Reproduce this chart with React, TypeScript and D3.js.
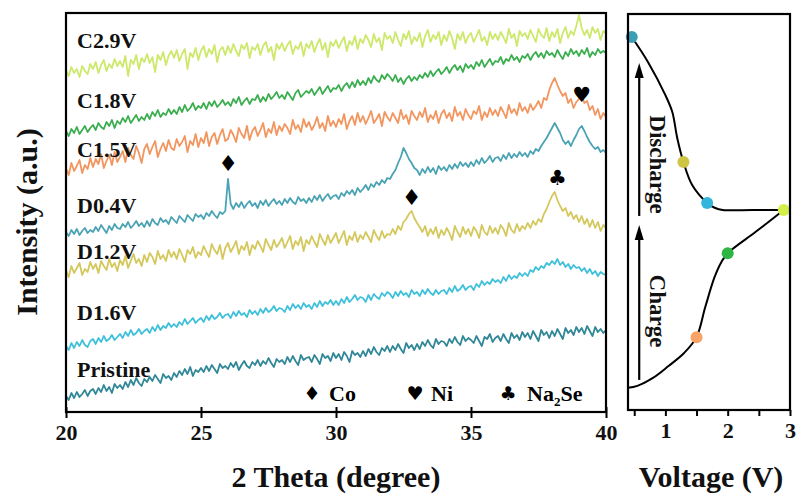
import { useEffect, useRef } from 'react';
import * as d3 from 'd3';

// XRD patterns, 2θ from 20 to 40 in 0.1° steps (intensity, arbitrary units)
const thetaStart = 20;
const thetaStep = 0.1;

const seriesLabels = ['C2.9V', 'C1.8V', 'C1.5V', 'D0.4V', 'D1.2V', 'D1.6V', 'Pristine'];
const seriesColors = ['#cde86a', '#3aae4e', '#f29660', '#4aa3b4', '#d4c85c', '#3fc0da', '#2f8797'];

const c29 = [
  342, 336, 345, 339, 343, 335, 346, 341, 338, 348,
  343, 350, 339, 347, 352, 341, 348, 344, 353, 346,
  351, 345, 356, 336, 352, 348, 357, 343, 354, 350,
  358, 349, 355, 340, 357, 352, 360, 347, 356, 361,
  354, 362, 351, 358, 363, 343, 359, 355, 364, 352,
  361, 366, 355, 363, 358, 367, 350, 362, 365, 357,
  366, 359, 368, 361, 356, 367, 363, 369, 354, 365,
  362, 368, 357, 366, 370, 360, 365, 352, 368, 363,
  369, 361, 367, 371, 358, 366, 363, 370, 356, 368,
  364, 371, 360, 368, 373, 362, 369, 355, 370, 366,
  372, 364, 370, 375, 361, 371, 367, 376, 363, 373,
  369, 377, 372, 365, 378, 370, 374, 362, 379, 373,
  376, 369, 380, 372, 366, 378, 373, 381, 368, 375,
  371, 379, 365, 376, 382, 370, 377, 373, 380, 367,
  377, 371, 381, 374, 363, 378, 372, 380, 369, 376,
  379, 370, 376, 382, 371, 375, 367, 380, 373, 378,
  372, 380, 375, 369, 383, 374, 378, 366, 381, 376,
  379, 373, 382, 376, 370, 383, 377, 374, 384, 371,
  380, 375, 383, 369, 379, 385, 374, 381, 377, 386,
  397, 384, 377, 382, 374, 385, 379, 383, 372, 381,
  379,
];
const c18 = [
  281, 276, 283, 279, 285, 278, 282, 286, 280, 284,
  287, 282, 289, 285, 283, 290, 286, 292, 284, 291,
  288, 294, 290, 296, 289, 293, 297, 291, 295, 292,
  298, 293, 300, 296, 302, 295, 299, 297, 303, 298,
  302, 298, 305, 300, 307, 301, 304, 309, 302, 306,
  304, 309, 303, 310, 306, 311, 305, 308, 312, 307,
  310, 306, 313, 309, 315, 307, 311, 314, 308, 313,
  312, 317, 310, 315, 311, 318, 313, 316, 320, 314,
  317, 313, 320, 316, 312, 319, 322, 315, 318, 321,
  319, 323, 317, 321, 325, 318, 322, 326, 320, 324,
  323, 327, 321, 326, 329, 324, 330, 325, 332, 327,
  331, 327, 334, 329, 336, 332, 330, 337, 333, 338,
  335, 331, 337, 330, 334, 328, 333, 336, 331, 335,
  332, 337, 334, 339, 335, 341, 336, 340, 343, 338,
  341, 345, 339, 344, 347, 342, 346, 340, 348, 344,
  347, 343, 350, 346, 352, 345, 349, 353, 347, 351,
  350, 355, 348, 353, 351, 357, 352, 355, 350, 356,
  354, 358, 352, 357, 360, 355, 359, 354, 361, 357,
  359, 355, 362, 357, 353, 360, 356, 363, 358, 361,
  356, 362, 358, 364, 355, 360, 357, 363, 359, 361,
  359,
];
const c15 = [
  244, 237, 249, 241, 246, 252, 239, 247, 243, 254,
  245, 253, 248, 258, 244, 251, 257, 247, 260, 250,
  255, 261, 250, 264, 257, 253, 266, 259, 249, 263,
  268, 258, 265, 271, 255, 263, 269, 261, 272, 264,
  262, 273, 266, 270, 276, 260, 271, 267, 278, 265,
  274, 269, 280, 266, 275, 279, 268, 277, 283, 271,
  273, 282, 277, 270, 284, 278, 274, 286, 272, 281,
  285, 276, 282, 289, 275, 283, 279, 290, 277, 286,
  281, 288, 284, 278, 292, 283, 287, 280, 293, 285,
  290, 282, 287, 295, 284, 289, 281, 296, 286, 291,
  285, 293, 288, 298, 283, 291, 296, 287, 299, 290,
  296, 288, 294, 301, 289, 293, 298, 286, 300, 295,
  291, 299, 294, 289, 302, 293, 297, 288, 301, 296,
  292, 300, 295, 304, 290, 297, 293, 301, 289, 298,
  302, 294, 299, 291, 305, 296, 300, 292, 303, 297,
  293, 301, 298, 306, 292, 300, 295, 304, 297, 302,
  296, 305, 300, 294, 307, 299, 303, 297, 309, 301,
  305, 299, 308, 302, 306, 311, 304, 314, 312, 322,
  329, 334, 327, 321, 316, 319, 309, 313, 304, 310,
  313, 316, 309, 311, 302, 306, 297, 303, 293, 299,
  295,
];
const d04 = [
  180, 176, 182, 178, 183, 177, 181, 184, 179, 182,
  180, 185, 181, 187, 183, 179, 186, 182, 188, 184,
  183, 188, 185, 190, 184, 187, 191, 186, 189, 185,
  191, 186, 193, 189, 187, 194, 190, 192, 188, 195,
  192, 189, 196, 193, 190, 197, 194, 191, 198, 195,
  197, 193, 199, 196, 201, 197, 194, 200, 198, 201,
  233, 208, 203, 209, 205, 210, 204, 208, 211, 206,
  209, 204, 211, 207, 212, 206, 210, 213, 208, 211,
  207, 213, 209, 214, 210, 208, 215, 211, 213, 209,
  214, 210, 216, 212, 217, 211, 215, 218, 213, 216,
  217, 213, 219, 216, 221, 218, 222, 217, 224, 220,
  223, 227, 222, 228, 225, 230, 227, 232, 229, 234,
  233, 238, 242, 249, 255, 264, 259, 253, 249, 244,
  242, 237, 243, 239, 245, 240, 244, 238, 246, 242,
  245, 241, 247, 243, 248, 244, 250, 246, 249, 245,
  250, 246, 252, 248, 254, 249, 252, 256, 250, 254,
  255, 251, 257, 253, 259, 254, 258, 255, 260, 256,
  259, 255, 261, 258, 263, 261, 266, 270, 274, 279,
  284, 289, 284, 279, 272, 268, 271, 266, 272, 277,
  283, 286, 281, 275, 270, 266, 263, 265, 260, 262,
  259,
];
const d12 = [
  142, 135, 146, 139, 144, 149, 137, 143, 140, 150,
  143, 148, 139, 151, 146, 142, 153, 145, 149, 141,
  152, 147, 156, 144, 151, 158, 149, 153, 146, 157,
  150, 159, 155, 148, 161, 153, 157, 151, 162, 155,
  160, 153, 163, 157, 150, 162, 158, 165, 154, 160,
  157, 166, 160, 155, 168, 162, 158, 167, 153, 164,
  169, 160, 165, 171, 158, 166, 162, 170, 157, 167,
  163, 171, 166, 160, 173, 167, 162, 172, 165, 169,
  174, 164, 170, 176, 163, 171, 167, 175, 161, 172,
  168, 176, 170, 165, 178, 172, 167, 177, 169, 174,
  179, 169, 175, 181, 167, 176, 172, 180, 170, 177,
  173, 180, 175, 170, 182, 176, 172, 181, 174, 178,
  177, 183, 178, 186, 182, 190, 193, 198, 201, 194,
  189, 185, 180, 186, 176, 183, 178, 185, 174, 182,
  177, 184, 179, 172, 186, 180, 175, 185, 178, 183,
  176, 185, 181, 174, 187, 180, 177, 186, 179, 184,
  178, 187, 183, 176, 189, 182, 179, 188, 181, 186,
  183, 189, 184, 191, 187, 193, 190, 198, 203, 210,
  216, 220, 212, 206, 201, 204, 196, 200, 193, 197,
  190, 196, 188, 193, 185, 192, 184, 190, 181, 187,
  184,
];
const d16 = [
  66, 62, 69, 64, 70, 66, 72, 67, 65, 71,
  73, 68, 74, 70, 76, 71, 73, 77, 72, 75,
  78, 74, 80, 76, 82, 77, 79, 83, 78, 81,
  83, 79, 85, 81, 87, 82, 86, 84, 89, 85,
  88, 85, 90, 87, 93, 88, 91, 94, 89, 92,
  94, 90, 96, 92, 97, 93, 95, 99, 94, 97,
  98, 94, 100, 96, 101, 97, 99, 95, 102, 98,
  101, 97, 103, 99, 104, 100, 102, 106, 101, 104,
  103, 100, 106, 102, 108, 104, 107, 103, 109, 105,
  107, 103, 109, 105, 111, 106, 110, 108, 112, 107,
  111, 107, 113, 109, 115, 110, 113, 117, 112, 115,
  114, 110, 117, 112, 118, 115, 113, 119, 116, 120,
  118, 114, 120, 116, 121, 117, 119, 115, 122, 118,
  120, 116, 122, 118, 123, 119, 117, 122, 118, 121,
  122, 118, 124, 120, 126, 121, 123, 127, 122, 125,
  126, 122, 128, 125, 131, 127, 130, 128, 133, 130,
  132, 129, 135, 131, 137, 133, 136, 134, 139, 136,
  139, 136, 142, 140, 145, 142, 146, 144, 149, 147,
  151, 148, 153, 147, 150, 145, 148, 143, 147, 144,
  145, 141, 144, 139, 143, 138, 141, 136, 140, 138,
  137,
];
const pristine = [
  16, 12, 19, 14, 20, 15, 18, 22, 16, 21,
  23, 18, 24, 20, 27, 21, 25, 19, 28, 24,
  27, 23, 30, 25, 32, 27, 34, 29, 26, 33,
  30, 35, 31, 37, 33, 29, 38, 34, 36, 32,
  39, 35, 41, 37, 43, 38, 45, 36, 42, 40,
  44, 40, 46, 41, 47, 43, 39, 48, 44, 46,
  43, 49, 45, 50, 42, 47, 51, 46, 44, 50,
  47, 52, 46, 51, 48, 54, 49, 45, 53, 50,
  52, 48, 55, 50, 56, 51, 47, 57, 52, 54,
  55, 50, 57, 53, 48, 58, 54, 56, 51, 59,
  54, 58, 52, 60, 56, 50, 61, 57, 59, 55,
  61, 56, 63, 58, 65, 60, 57, 64, 61, 66,
  60, 66, 62, 68, 63, 59, 69, 64, 67, 62,
  68, 63, 70, 66, 72, 67, 64, 73, 68, 71,
  70, 66, 73, 69, 75, 70, 67, 76, 71, 74,
  72, 69, 76, 71, 66, 75, 73, 78, 70, 74,
  76, 71, 78, 73, 69, 79, 74, 77, 72, 80,
  75, 79, 73, 81, 76, 71, 82, 77, 80, 74,
  81, 76, 83, 78, 73, 84, 79, 82, 77, 85,
  80, 84, 78, 86, 81, 76, 85, 80, 83, 79,
  82,
];
const seriesValues = [c29, c18, c15, d04, d12, d16, pristine];

// peak markers: 2θ, intensity, glyph
const peakTheta = [26.0, 32.8, 38.2, 39.1];
const peakLevel = [249, 215, 234, 317];
const peakGlyph = ['♦', '♦', '♣', '♥'];

const xTicks = [20, 25, 30, 35, 40];

// charge / discharge profile: voltage vs. normalised time
const chargeVoltage = [0.4, 0.55, 0.8, 1.05, 1.3, 1.5, 1.64, 1.79, 1.9, 2.0, 2.45, 2.9];
const chargeTime = [5.6, 6.1, 8.1, 11.1, 14.4, 18.4, 26.0, 33.6, 37.4, 39.6, 45.0, 50.5];
const dischargeVoltage = [2.9, 2.4, 1.92, 1.8, 1.67, 1.43, 1.29, 1.19, 1.11, 1.0, 0.72, 0.46];
const dischargeTime = [50.5, 50.5, 50.5, 51.0, 52.3, 56.8, 62.6, 68.7, 75.3, 79.5, 87.9, 94.2];

const dotVoltage = [1.5, 2.0, 2.9, 1.67, 1.29, 0.46];
const dotTime = [18.4, 39.6, 50.5, 52.3, 62.6, 94.2];
const dotColors = ['#f7a466', '#2fb544', '#d3ef4a', '#33b6dc', '#cfc545', '#3a9fb6'];

const vTicks = [0.5, 1, 1.5, 2, 2.5, 3];

const serif = '"Liberation Serif", "Times New Roman", serif';
const symFont = '"DejaVu Sans", sans-serif';

const App = () => {
  const svgRef = useRef<SVGSVGElement>(null);

  useEffect(() => {
    if (!svgRef.current) return;
    document.body.style.margin = '0';
    const svg = d3.select(svgRef.current);
    svg.selectAll('*').remove();

    // ---------- left panel: XRD ----------
    const x = d3.scaleLinear().domain([20, 40]).range([66, 606]);
    const y = d3.scaleLinear().domain([0, 399]).range([412, 13]);

    const line = d3.line<number>()
      .x((_, i) => x(thetaStart + i * thetaStep))
      .y(d => y(d));

    const left = svg.append('g');

    seriesValues.forEach((vals, k) => {
      left.append('path')
        .datum(vals)
        .attr('d', line)
        .attr('fill', 'none')
        .attr('stroke', seriesColors[k])
        .attr('stroke-width', 1.8)
        .attr('stroke-linejoin', 'round');
    });

    // trace labels
    const labelBase = [48, 108, 157, 213, 259, 320, 377];
    seriesLabels.forEach((t, k) => {
      left.append('text')
        .attr('x', 77)
        .attr('y', labelBase[k])
        .style('font-family', serif)
        .style('font-weight', 'bold')
        .style('font-size', '22px')
        .style('fill', '#111')
        .text(t);
    });

    // peak symbols
    peakTheta.forEach((p, i) => {
      left.append('text')
        .attr('x', x(p))
        .attr('y', y(peakLevel[i]))
        .attr('text-anchor', 'middle')
        .attr('dominant-baseline', 'central')
        .style('font-family', symFont)
        .style('font-size', peakGlyph[i] === '♦' ? '22px' : '21px')
        .style('fill', '#000')
        .text(peakGlyph[i]);
    });

    // legend
    const legend = [
      { g: '♦', t: 'Co', x: 312, tx: 329 },
      { g: '♥', t: 'Ni', x: 415, tx: 431 },
      { g: '♣', t: 'Na', sub: '2', t2: 'Se', x: 508, tx: 527 },
    ];
    legend.forEach(l => {
      left.append('text')
        .attr('x', l.x).attr('y', 393)
        .attr('text-anchor', 'middle')
        .attr('dominant-baseline', 'central')
        .style('font-family', symFont)
        .style('font-size', '19px')
        .text(l.g);
      const t = left.append('text')
        .attr('x', l.tx).attr('y', 401)
        .style('font-family', serif)
        .style('font-weight', 'bold')
        .style('font-size', '22px')
        .text(l.t);
      if (l.sub) {
        t.append('tspan').attr('dy', 5).style('font-size', '13px').text(l.sub);
        t.append('tspan').attr('dy', -5).text(l.t2);
      }
    });

    // frame + axis
    left.append('rect')
      .attr('x', 66).attr('y', 13).attr('width', 540).attr('height', 399)
      .attr('fill', 'none').attr('stroke', '#000').attr('stroke-width', 2.2);

    const xAxis = left.append('g')
      .attr('transform', 'translate(0,412)')
      .call(d3.axisBottom(x).tickValues(xTicks).tickSize(6).tickFormat(d3.format('d')));
    xAxis.select('.domain').remove();
    xAxis.selectAll('.tick line').attr('y1', -5).attr('y2', 6).attr('stroke-width', 2);
    xAxis.selectAll('text')
      .attr('y', 12)
      .style('font-family', serif)
      .style('font-weight', 'bold')
      .style('font-size', '22px')
      .style('fill', '#111');

    left.append('text')
      .attr('x', 336).attr('y', 487)
      .attr('text-anchor', 'middle')
      .style('font-family', serif)
      .style('font-weight', 'bold')
      .style('font-size', '30px')
      .style('fill', '#111')
      .text('2 Theta (degree)');

    left.append('text')
      .attr('transform', 'translate(37,222) rotate(-90)')
      .attr('text-anchor', 'middle')
      .style('font-family', serif)
      .style('font-weight', 'bold')
      .style('font-size', '30px')
      .style('fill', '#111')
      .text('Intensity (a.u.)');

    // ---------- right panel: voltage profile ----------
    const xv = d3.scaleLinear().domain([0.4, 3.0]).range([628, 790]);
    const yt = d3.scaleLinear().domain([0, 100]).range([410, 14]);
    const right = svg.append('g');

    const curve = d3.line<[number, number]>()
      .x(d => xv(d[0]))
      .y(d => yt(d[1]))
      .curve(d3.curveCatmullRom.alpha(0.5));

    const chargePts = chargeVoltage.map((v, i) => [v, chargeTime[i]] as [number, number]);
    const dischargePts = dischargeVoltage.map((v, i) => [v, dischargeTime[i]] as [number, number]);

    [chargePts, dischargePts].forEach(pts => {
      right.append('path')
        .datum(pts)
        .attr('d', curve)
        .attr('fill', 'none')
        .attr('stroke', '#000')
        .attr('stroke-width', 2);
    });

    dotVoltage.forEach((v, i) => {
      right.append('circle')
        .attr('cx', xv(v))
        .attr('cy', yt(dotTime[i]))
        .attr('r', 6)
        .attr('fill', dotColors[i]);
    });

    // arrows
    const arrows = [
      { from: 49.0, to: 87.6, label: 'Discharge', mid: 62 },
      { from: 7.6, to: 46.7, label: 'Charge', mid: 25 },
    ];
    arrows.forEach(a => {
      const ax = xv(0.58);
      const tip = yt(a.to);
      right.append('line')
        .attr('x1', ax).attr('x2', ax)
        .attr('y1', yt(a.from)).attr('y2', tip + 10)
        .attr('stroke', '#000').attr('stroke-width', 2.2);
      right.append('path')
        .attr('d', `M${ax},${tip} L${ax - 4.5},${tip + 15} L${ax + 4.5},${tip + 15} Z`)
        .attr('fill', '#000');
      right.append('text')
        .attr('transform', `translate(${ax + 11},${yt(a.mid)}) rotate(90)`)
        .attr('text-anchor', 'middle')
        .style('font-family', serif)
        .style('font-weight', 'bold')
        .style('font-size', '23px')
        .style('fill', '#111')
        .text(a.label);
    });

    right.append('rect')
      .attr('x', 628).attr('y', 14).attr('width', 162).attr('height', 396)
      .attr('fill', 'none').attr('stroke', '#000').attr('stroke-width', 2.2);

    const vAxis = right.append('g')
      .attr('transform', 'translate(0,410)')
      .call(d3.axisBottom(xv).tickValues(vTicks).tickSize(6)
        .tickFormat(d => (Number.isInteger(+d) ? d3.format('d')(+d) : '')));
    vAxis.select('.domain').remove();
    vAxis.selectAll('.tick line').attr('y1', 0).attr('y2', 6).attr('stroke-width', 2);
    vAxis.selectAll('text')
      .attr('y', 12)
      .style('font-family', serif)
      .style('font-weight', 'bold')
      .style('font-size', '22px')
      .style('fill', '#111');

    right.append('text')
      .attr('x', 711).attr('y', 487)
      .attr('text-anchor', 'middle')
      .style('font-family', serif)
      .style('font-weight', 'bold')
      .style('font-size', '30px')
      .style('fill', '#111')
      .text('Voltage (V)');
  }, []);

  return (
    <svg
      ref={svgRef}
      width={799}
      height={497}
      style={{ display: 'block', background: '#fff' }}
    />
  );
};

export default App;
